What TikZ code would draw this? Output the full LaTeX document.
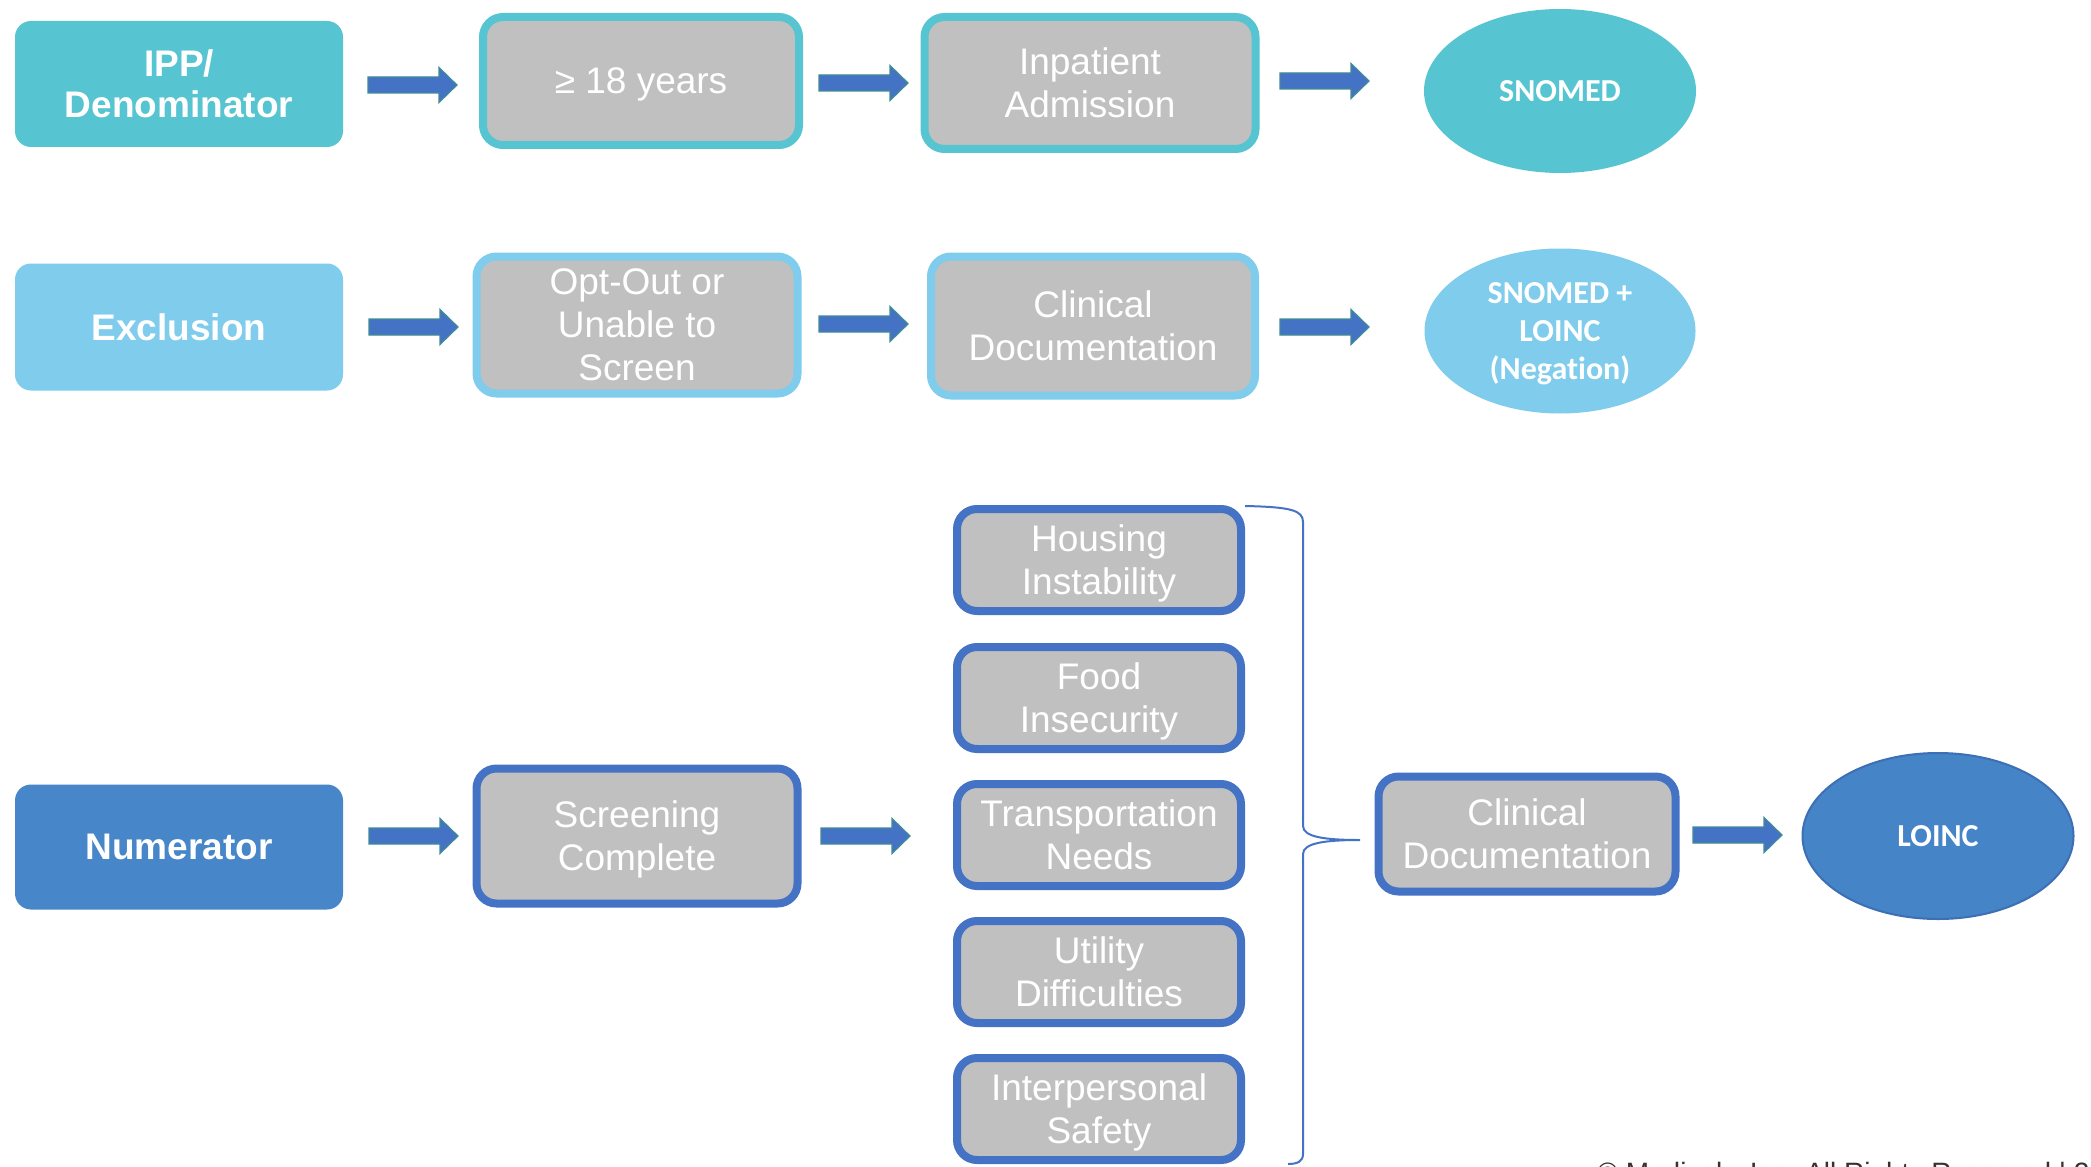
\documentclass[tikz,border=0pt]{standalone}
\usepackage{fontspec}
\usetikzlibrary{shapes.geometric}
\newfontfamily\arialf{Liberation Sans}
\newfontfamily\calibf[Ligatures=NoCommon]{Carlito}
\definecolor{tealc}{RGB}{86,196,209}
\definecolor{skyc}{RGB}{127,204,236}
\definecolor{bluelab}{RGB}{71,134,200}
\definecolor{blueedge}{RGB}{68,114,196}
\definecolor{loincfill}{RGB}{69,132,198}
\definecolor{loincedge}{RGB}{61,111,181}
\definecolor{boxgray}{RGB}{192,192,192}
\definecolor{arrfill}{RGB}{68,114,196}
\definecolor{arredge}{RGB}{64,140,150}
\tikzset{
  lab/.style={rectangle, rounded corners=8pt, text=white, align=center, inner sep=0pt,
    minimum width=164pt, minimum height=63pt, text depth=0pt,
    font=\arialf\bfseries\fontsize{18.5}{20.5}\selectfont},
  gbox/.style={rectangle, rounded corners=10pt, fill=boxgray, line width=4pt, text=white,
    align=center, inner sep=0pt, text depth=0pt,
    font=\arialf\fontsize{18.5}{21.5}\selectfont},
  stackbox/.style={gbox, draw=blueedge, minimum width=142pt, minimum height=51pt},
  oval/.style={ellipse, text=white, align=center, inner sep=0pt, text depth=0pt,
    font=\calibf\bfseries\fontsize{16}{19}\selectfont},
  barrow/.pic={\filldraw[fill=arrfill, draw=arredge, line width=0.6pt]
    (0,-8) -- (71,-8) -- (71,-17.5) -- (89,0) -- (71,17.5) -- (71,8) -- (0,8) -- cycle;},
  bracestyle/.style={draw=blueedge, line width=1pt}
}
\begin{document}
\begin{tikzpicture}[x=0.5pt, y=-0.5pt]
\clip (0,0) rectangle (2091,1166);
\fill[white] (0,0) rectangle (2091,1166);

% Row 1
\node[lab, fill=tealc] (ipp) at (179,84) {IPP/\\Denominator};
\node[gbox, draw=tealc, minimum width=158pt, minimum height=64pt] (age) at (641,81) {≥ 18 years};
\node[gbox, draw=tealc, minimum width=165.5pt, minimum height=66pt] (inpat) at (1090,83) {Inpatient\\Admission};
\node[oval, fill=tealc, minimum width=136pt, minimum height=82pt] (snomed) at (1560,91) {SNOMED};
\pic at (368,85) {barrow};
\pic at (819,83) {barrow};
\pic at (1280,81) {barrow};

% Row 2
\node[lab, fill=skyc, minimum height=63.5pt] (excl) at (179,327) {Exclusion};
\node[gbox, draw=skyc, minimum width=160.5pt, minimum height=68.5pt] (optout) at (637,325) {Opt-Out or\\Unable to\\Screen};
\node[gbox, draw=skyc, minimum width=162pt, minimum height=69.5pt] (clin1) at (1093,326) {Clinical\\Documentation};
\node[oval, fill=skyc, minimum width=135.5pt, minimum height=82.5pt] (snoloinc) at (1560,331) {SNOMED +\\LOINC\\(Negation)};
\pic at (369,327) {barrow};
\pic at (819,324) {barrow};
\pic at (1280,327) {barrow};

% Row 3
\node[lab, fill=bluelab, minimum height=62.5pt] (num) at (179,847) {Numerator};
\node[gbox, draw=blueedge, minimum width=160.5pt, minimum height=67.5pt] (screen) at (637,836) {Screening\\Complete};
\node[stackbox] (housing) at (1099,560) {Housing\\Instability};
\node[stackbox] (food) at (1099,698) {Food\\Insecurity};
\node[stackbox] (transp) at (1099,835) {Transportation\\Needs};
\node[stackbox] (util) at (1099,972) {Utility\\Difficulties};
\node[stackbox] (safety) at (1099,1109) {Interpersonal\\Safety};
\node[gbox, draw=blueedge, minimum width=148.5pt, minimum height=57.5pt] (clin2) at (1527,834) {Clinical\\Documentation};
\node[oval, fill=loincfill, draw=loincedge, line width=1pt, minimum width=135.5pt, minimum height=83pt] (loinc) at (1938,836) {LOINC};
\pic at (369,836) {barrow};
\pic at (821,836) {barrow};
\pic at (1693,835) {barrow};

% brace
\coordinate (btop) at (1245,506);
\coordinate (btip) at (1360,840);
\coordinate (bbot) at (1288,1164);
\draw[bracestyle] (btop) .. controls (1290,507) and (1303,510) .. (1303,522)
  -- (1303,826) .. controls (1303,837) and (1325,840) .. (btip)
  .. controls (1325,840) and (1303,843) .. (1303,854)
  -- (1303,1154) .. controls (1303,1161) and (1298,1164) .. (bbot);

% footer
\node[anchor=base west, inner sep=0pt, text=black!80, font=\arialf\fontsize{14}{16}\selectfont] (copy) at (1597,1182) {© Medisolv, Inc. All Rights Reserved | 20};
\end{tikzpicture}
\end{document}
